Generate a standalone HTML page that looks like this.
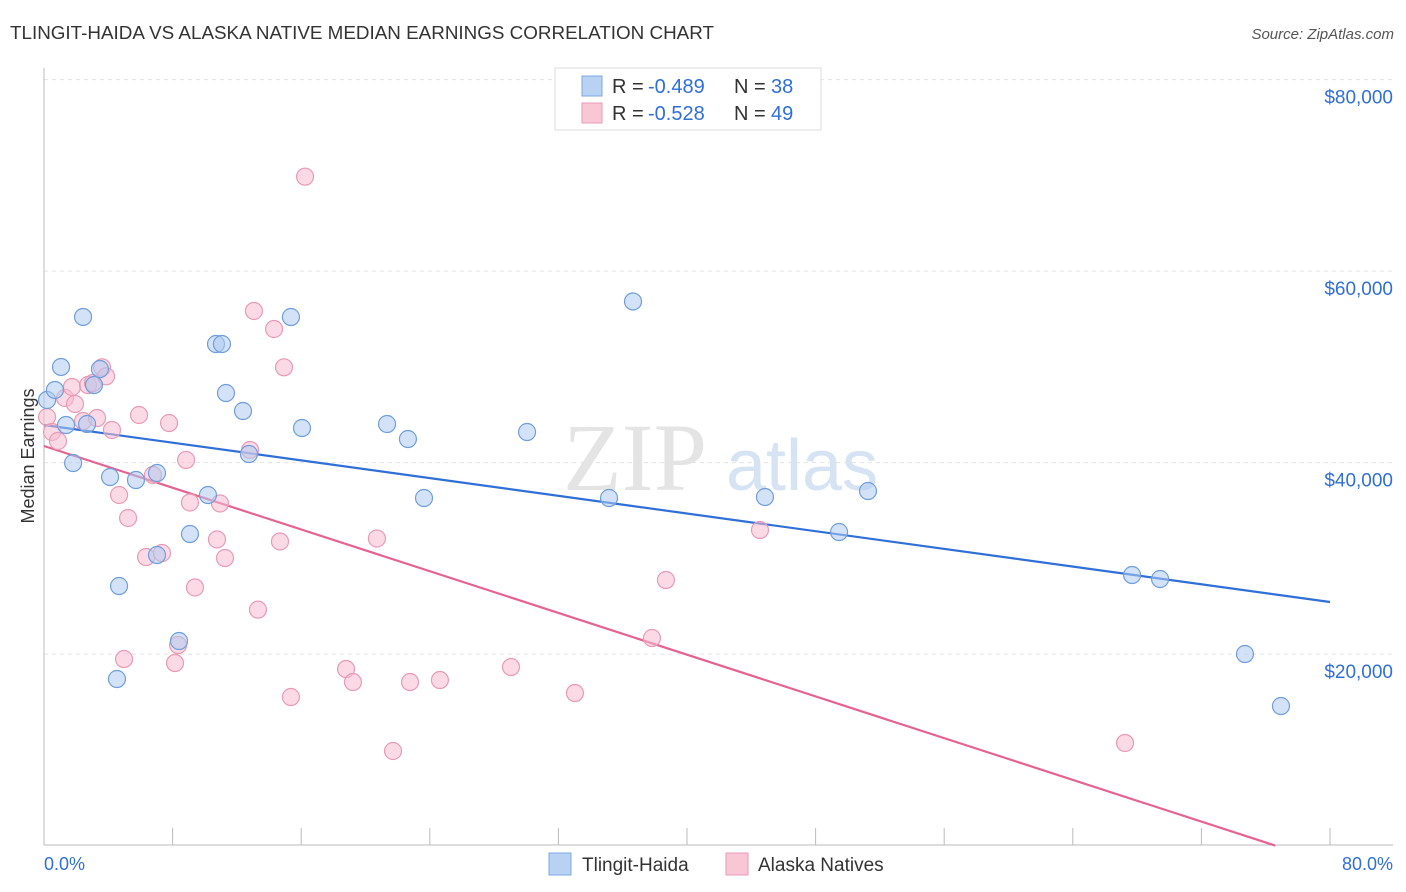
<!DOCTYPE html>
<html><head><meta charset="utf-8">
<style>
body{margin:0;background:#fff;width:1406px;height:892px;overflow:hidden;font-family:"Liberation Sans",sans-serif;}
svg{position:absolute;left:0;top:0}
</style></head>
<body>
<svg id="chart" width="1406" height="892">
<text x="10" y="39" font-size="18" fill="#333" textLength="704" lengthAdjust="spacingAndGlyphs">TLINGIT-HAIDA VS ALASKA NATIVE MEDIAN EARNINGS CORRELATION CHART</text>
<text x="1394" y="39" font-size="15" fill="#555" font-style="italic" text-anchor="end">Source: ZipAtlas.com</text>
<text x="34" y="456" font-size="18" fill="#333" text-anchor="middle" transform="rotate(-90 34 456)">Median Earnings</text>
<g>
<text x="635" y="490" font-size="96" fill="#e4e4e4" font-family="Liberation Serif,serif" text-anchor="middle">ZIP</text>
<text x="802" y="490" font-size="72" fill="#d6e3f3" text-anchor="middle">atlas</text>
</g>
<g id="grid"></g>
<g id="lines"></g>
<g id="points"></g>
<g>
<rect x="555" y="68" width="266" height="62" fill="#fff" stroke="#ddd"/>
<rect x="582" y="76" width="20" height="20" fill="#b8d2f3" stroke="#7fa8e0"/>
<rect x="582" y="103" width="20" height="20" fill="#f9c6d6" stroke="#e99ab5"/>
<text y="93" font-size="20" fill="#333"><tspan x="612">R =</tspan><tspan x="648" fill="#2f6fd6">-0.489</tspan><tspan x="734">N =</tspan><tspan x="771" fill="#2f6fd6">38</tspan></text>
<text y="120" font-size="20" fill="#333"><tspan x="612">R =</tspan><tspan x="648" fill="#2f6fd6">-0.528</tspan><tspan x="734">N =</tspan><tspan x="771" fill="#2f6fd6">49</tspan></text>
</g>
<g>
<rect x="549" y="853" width="22" height="22" fill="#b8d2f3" stroke="#7fa8e0"/>
<text x="582" y="871" font-size="19" fill="#333">Tlingit-Haida</text>
<rect x="726" y="853" width="22" height="22" fill="#f9c6d6" stroke="#e99ab5"/>
<text x="758" y="871" font-size="19" fill="#333">Alaska Natives</text>
</g>
<text x="44" y="870" font-size="18" fill="#2f6fd6">0.0%</text>
<text x="1393" y="870" font-size="18" fill="#2f6fd6" text-anchor="end">80.0%</text>
</svg>
<script>
const yTicks=[20000,40000,60000,80000];
const yTickLabels=["$20,000","$40,000","$60,000","$80,000"];
const xTicks=[0,8,16,24,32,40,48,56,64,72,80];
const blueX=[0.19,0.68,1.06,2.43,1.37,1.81,2.68,3.11,3.48,4.11,4.67,4.54,5.72,7.03,7.03,8.40,9.08,10.20,10.70,11.07,11.32,12.38,12.75,15.36,16.05,21.34,22.64,23.64,30.05,35.15,36.64,44.85,49.46,51.26,67.69,69.43,74.71,76.95];
const blueY=[46540,47585,49987,55209,43926,39957,44031,48104,49775,38495,27111,17399,38182,38913,30349,21367,32542,36615,52385,52385,47267,45387,40896,55205,43613,44031,42464,36302,43195,36302,56828,36406,32751,37033,28260,27842,20009,14578];
const pinkX=[0.19,0.50,0.87,1.31,1.93,1.74,2.43,2.74,3.05,3.30,3.61,3.86,4.23,4.67,4.98,5.23,5.91,6.35,6.78,7.34,7.78,8.15,8.34,8.84,9.08,9.39,10.76,10.95,11.26,12.82,13.06,13.31,14.31,14.68,14.93,15.36,16.24,18.79,19.22,20.71,21.71,22.77,24.63,29.05,33.03,37.82,38.69,44.54,67.25];
const pinkY=[44762,43196,42256,46747,46120,47896,44344,48104,48313,44657,49953,49013,43405,36616,19486,34214,44971,30140,38705,30558,44135,19068,20948,40280,35834,26957,31970,35730,30035,41317,55835,24644,53955,31761,49953,15518,69861,18441,17083,32075,9880,17083,17292,18650,15934,21681,27738,32960,10716];
const blueTrend=[[0,43927],[80,25441]];
const pinkTrend=[[0,41734],[76.6,0]];
const NS="http://www.w3.org/2000/svg";
const X=p=>44+p*(1286/80);
const Y=v=>845.6-v*(191.5/20000);
function mk(tag,attrs,parent){const e=document.createElementNS(NS,tag);for(const k in attrs)e.setAttribute(k,attrs[k]);parent.appendChild(e);return e;}
const grid=document.getElementById('grid');
yTicks.forEach((v,i)=>{
 const l=mk('line',{x1:44,x2:1393,y1:Y(v),y2:Y(v),stroke:'#e2e2e2','stroke-dasharray':'4 4'},grid);
 
 
 const t=mk('text',{x:1393,y:Y(v)+24,'font-size':19,fill:'#2f6fd6','text-anchor':'end'},grid);
 t.textContent=yTickLabels[i];
 
 
});
const ax=mk('line',{x1:44,x2:44,y1:68,y2:845,stroke:'#bbb'},grid);


const bx=mk('line',{x1:44,x2:1393,y1:845,y2:845,stroke:'#bbb'},grid);


xTicks.forEach(p=>{
 const t=mk('line',{x1:X(p),x2:X(p),y1:828,y2:845,stroke:'#bbb'},grid);
 
 
});
const pts=document.getElementById('points');
function drawPts(xs,ys,fill,stroke,name){
 xs.forEach((p,i)=>{
  const c=mk('circle',{cx:X(p),cy:Y(ys[i]),r:8.5,fill:fill,'fill-opacity':0.55,stroke:stroke,'stroke-width':1.2},pts);
  
  
 });
}
drawPts(pinkX,pinkY,'#f7bcd0','#e99ab5','alaska-natives-point');
drawPts(blueX,blueY,'#aecbf0','#6f9edc','tlingit-haida-point');
const lines=document.getElementById('lines');
const bl=mk('line',{x1:X(blueTrend[0][0]),y1:Y(blueTrend[0][1]),x2:X(blueTrend[1][0]),y2:Y(blueTrend[1][1]),stroke:'#2f6fd6','stroke-width':2.2},lines);


const pl=mk('line',{x1:X(pinkTrend[0][0]),y1:Y(pinkTrend[0][1]),x2:X(pinkTrend[1][0]),y2:Y(pinkTrend[1][1]),stroke:'#e4638f','stroke-width':2.2},lines);


</script>
</body></html>
